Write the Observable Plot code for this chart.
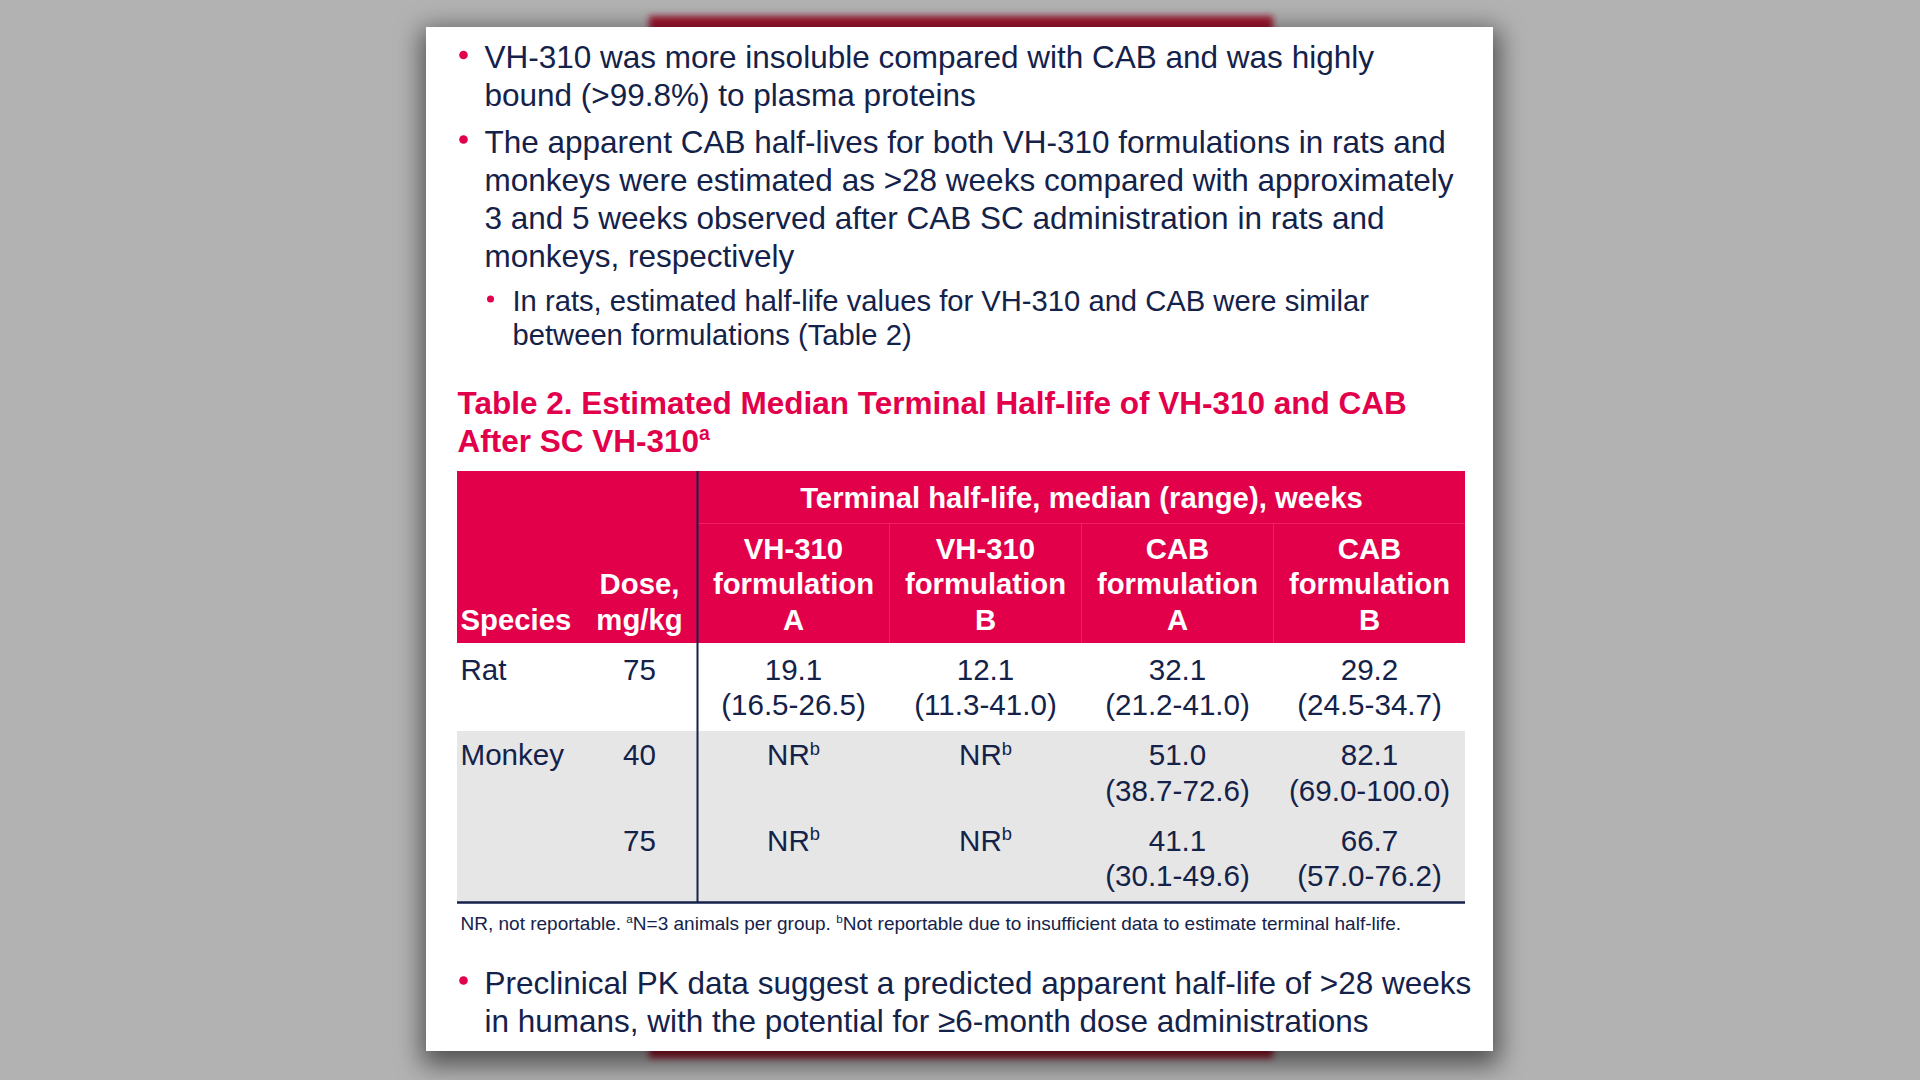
<!DOCTYPE html>
<html><head><meta charset="utf-8">
<script src="https://cdn.jsdelivr.net/npm/d3@7"></script>
<script src="https://cdn.jsdelivr.net/npm/@observablehq/plot@0.6"></script>
<style>html,body{margin:0;padding:0;background:#b2b2b2;overflow:hidden}</style>
</head><body><div id="chart"></div>
<script>
// ---------- data ----------
const bullet1 = ["VH-310 was more insoluble compared with CAB and was highly", "bound (>99.8%) to plasma proteins"];
const bullet2 = ["The apparent CAB half-lives for both VH-310 formulations in rats and", "monkeys were estimated as >28 weeks compared with approximately", "3 and 5 weeks observed after CAB SC administration in rats and", "monkeys, respectively"];
const subBullet = ["In rats, estimated half-life values for VH-310 and CAB were similar", "between formulations (Table 2)"];
const tableTitle = ["Table 2. Estimated Median Terminal Half-life of VH-310 and CAB", "After SC VH-310^a"];
const spanner = "Terminal half-life, median (range), weeks";
const stubHeads = [["Species"], ["Dose,", "mg/kg"]];
const columnHeads = [["VH-310", "formulation", "A"], ["VH-310", "formulation", "B"], ["CAB", "formulation", "A"], ["CAB", "formulation", "B"]];
const species = ["Rat", "Monkey", ""];
const doses = ["75", "40", "75"];
const medians = [["19.1", "12.1", "32.1", "29.2"], ["NR^b", "NR^b", "51.0", "82.1"], ["NR^b", "NR^b", "41.1", "66.7"]];
const ranges = [["(16.5-26.5)", "(11.3-41.0)", "(21.2-41.0)", "(24.5-34.7)"], ["", "", "(38.7-72.6)", "(69.0-100.0)"], ["", "", "(30.1-49.6)", "(57.0-76.2)"]];
const footnote = "NR, not reportable. ^aN=3 animals per group. ^bNot reportable due to insufficient data to estimate terminal half-life.";
const bullet3 = ["Preclinical PK data suggest a predicted apparent half-life of >28 weeks", "in humans, with the potential for \u22656-month dose administrations"];

// ---------- layout ----------
const NAVY = "#14224a", RED = "#e2004b", GRAY = "#e6e6e6";
const FONT = "Liberation Sans, Arial, sans-serif";
const card = {x1: 426, y1: 27, x2: 1493, y2: 1051};
const dotX = 463, textX = 484, subDotX = 490, subTextX = 512;
const lineH = 38.2;
const b1Y = 57.5, b2Y = 142, subY = 301, subLineH = 34.5, titleY = 403, b3Y = 983, footY = 923;
const tX0 = 457, tX1 = 1465, stubEdge = 697, colW = 192;
const headTop = 471, headMid = 523, headBot = 643, headLines = [549, 584.5, 620];
const rowFirstLine = [670, 755.5, 841], rowTops = [643, 731, 816], tableBot = 902, bodyLineH = 35.5;
const speciesX = 460, doseX = 639;

const lines = (arr, x, y0, dy) => arr.map((t, i) => ({x, y: y0 + i * dy, t}));
const colCenter = j => stubEdge + colW * (j + 0.5);

const headCells = columnHeads.flatMap((c, j) => c.map((t, i) => ({x: colCenter(j), y: headLines[i], t})));
const doseHead = stubHeads[1].map((t, i) => ({x: doseX, y: headLines[i + 1], t}));
const speciesHead = [{x: speciesX, y: headLines[2], t: stubHeads[0][0]}];
const speciesCells = species.map((s, r) => ({x: speciesX, y: rowFirstLine[r], t: s}));
const bodyCells = [];
species.forEach((s, r) => {
  bodyCells.push({x: doseX, y: rowFirstLine[r], t: doses[r]});
  medians[r].forEach((m, j) => {
    bodyCells.push({x: colCenter(j), y: rowFirstLine[r], t: m});
    bodyCells.push({x: colCenter(j), y: rowFirstLine[r] + bodyLineH, t: ranges[r][j]});
  });
});

const textMark = (data, opts) => Plot.text(data, {x: "x", y: "y", text: "t", fontFamily: FONT, ...opts});

const plot = Plot.plot({
  width: 1920, height: 1080, margin: 0,
  x: {domain: [0, 1920], range: [0, 1920], axis: null},
  y: {domain: [0, 1080], range: [0, 1080], axis: null},
  style: {background: "#b2b2b2", fontFamily: FONT},
  marks: [
    // slide peeking behind
    Plot.rect([{x1: 649, x2: 1273, y1: 16, y2: 34}, {x1: 649, x2: 1273, y1: 1045, y2: 1058}], {x1: "x1", x2: "x2", y1: "y1", y2: "y2", fill: "#a3122f"}),
    // shadow
    Plot.rect([card], {x1: d => d.x1 - 4, x2: d => d.x2 + 6, y1: d => d.y1 + 2, y2: d => d.y2 + 14, fill: "#000001", fillOpacity: 0.55}),
    // card
    Plot.rect([card], {x1: "x1", x2: "x2", y1: "y1", y2: "y2", fill: "white"}),
    // header band
    Plot.rect([{x1: tX0, x2: tX1, y1: headTop, y2: headBot}], {x1: "x1", x2: "x2", y1: "y1", y2: "y2", fill: RED}),
    // gray monkey rows
    Plot.rect([{x1: tX0, x2: tX1, y1: rowTops[1], y2: tableBot}], {x1: "x1", x2: "x2", y1: "y1", y2: "y2", fill: GRAY}),
    // faint header separators
    Plot.ruleY([headMid], {x1: stubEdge, x2: tX1, stroke: "#ff5a8a", strokeOpacity: 0.35, strokeWidth: 1}),
    Plot.ruleX([1, 2, 3].map(j => stubEdge + colW * j), {y1: headMid, y2: headBot, stroke: "#ff5a8a", strokeOpacity: 0.35, strokeWidth: 1}),
    // dark rules
    Plot.ruleX([stubEdge], {y1: headTop, y2: tableBot, stroke: NAVY, strokeWidth: 2}),
    Plot.ruleY([tableBot], {x1: tX0, x2: tX1, stroke: NAVY, strokeWidth: 2.5}),
    // bullets
    Plot.dot([{x: dotX, y: b1Y - 3}, {x: dotX, y: b2Y - 3}, {x: dotX, y: b3Y - 3}], {x: "x", y: "y", r: 4.3, fill: RED}),
    Plot.dot([{x: subDotX, y: subY - 2.5}], {x: "x", y: "y", r: 3.5, fill: RED}),
    textMark([...lines(bullet1, textX, b1Y, lineH), ...lines(bullet2, textX, b2Y, lineH), ...lines(bullet3, textX, b3Y, lineH)], {textAnchor: "start", fontSize: 31.5, fill: NAVY}),
    textMark(lines(subBullet, subTextX, subY, subLineH), {textAnchor: "start", fontSize: 29.2, fill: NAVY}),
    textMark(lines(tableTitle, tX0, titleY, lineH), {textAnchor: "start", fontSize: 31.5, fontWeight: "bold", fill: RED}),
    // header text
    textMark([{x: stubEdge + colW * 2, y: 498, t: spanner}], {textAnchor: "middle", fontSize: 29.3, fontWeight: "bold", fill: "white"}),
    textMark(headCells, {textAnchor: "middle", fontSize: 29.3, fontWeight: "bold", fill: "white"}),
    textMark(doseHead, {textAnchor: "middle", fontSize: 29.3, fontWeight: "bold", fill: "white"}),
    textMark(speciesHead, {textAnchor: "start", fontSize: 29.3, fontWeight: "bold", fill: "white"}),
    // body
    textMark(speciesCells, {textAnchor: "start", fontSize: 29.6, fill: NAVY}),
    textMark(bodyCells, {textAnchor: "middle", fontSize: 29.6, fill: NAVY}),
    textMark([{x: speciesX, y: footY, t: footnote}], {textAnchor: "start", fontSize: 19, fill: NAVY})
  ]
});
document.getElementById("chart").appendChild(plot);

// blur the shadow
const NS = "http://www.w3.org/2000/svg";
const defs = document.createElementNS(NS, "defs");
defs.innerHTML = '<filter id="blur" x="-10%" y="-10%" width="120%" height="120%"><feGaussianBlur stdDeviation="13"/></filter><filter id="blur2"><feGaussianBlur stdDeviation="3"/></filter>';
plot.insertBefore(defs, plot.firstChild);
plot.querySelectorAll('[fill="#000001"]').forEach(g => g.setAttribute("filter", "url(#blur)"));
plot.querySelectorAll('[fill="#a3122f"]').forEach(g => g.setAttribute("filter", "url(#blur2)"));

// superscripts marked with ^
plot.querySelectorAll("text").forEach(t => {
  const s = t.textContent;
  if (t.children.length || !s.includes("^")) return;
  const fs = parseFloat(getComputedStyle(t).fontSize);
  const parts = s.split(/\^(.)/);
  t.textContent = "";
  let raised = false;
  parts.forEach((p, i) => {
    if (!p) return;
    const ts = document.createElementNS(NS, "tspan");
    ts.textContent = p;
    if (i % 2 === 1) { ts.setAttribute("font-size", fs * 0.62); ts.setAttribute("dy", -fs * 0.36); raised = true; }
    else if (raised) { ts.setAttribute("dy", fs * 0.36); raised = false; }
    t.appendChild(ts);
  });
});
</script></body></html>
